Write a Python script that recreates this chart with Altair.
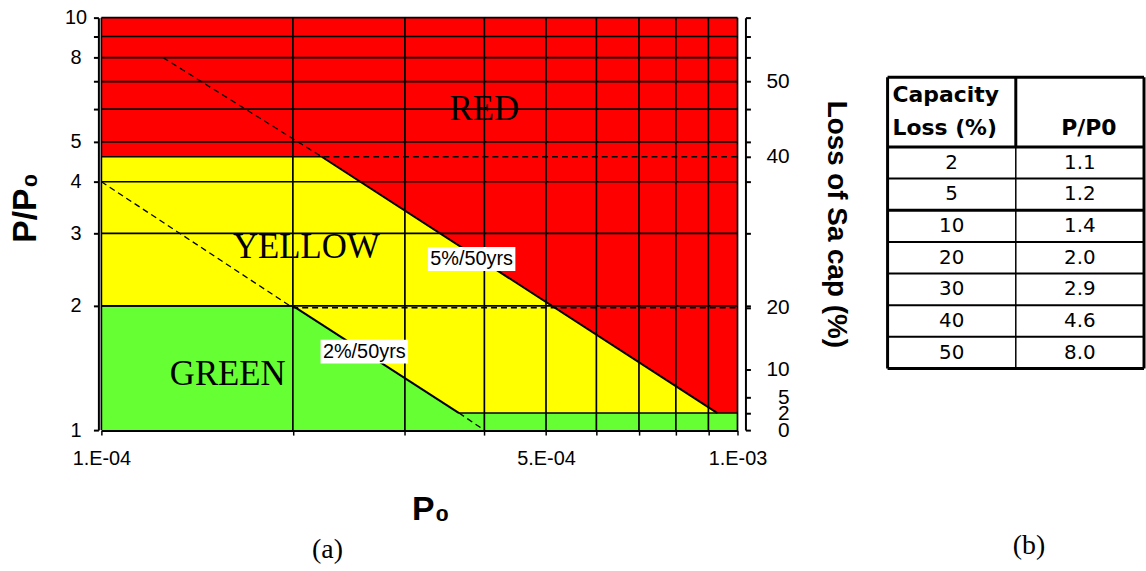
import altair as alt
import pandas as pd

# ---------------- panel (a): P/P0 zones against P0 ----------------
# P0 axis (annual probability, log scale)
p0_ticks = [1e-4, 2e-4, 3e-4, 4e-4, 5e-4, 6e-4, 7e-4, 8e-4, 9e-4, 1e-3]
p0_tick_text = ["1.E-04", "", "", "", "5.E-04", "", "", "", "", "1.E-03"]

# P/P0 axis (log scale)
ratio_ticks = [1, 2, 3, 4, 5, 6, 7, 8, 9, 10]
ratio_tick_text = ["1", "2", "3", "4", "5", "", "", "8", "", "10"]

# secondary axis: loss of Sa capacity (%) placed against P/P0
loss_axis_ratio = [1.0, 1.1, 1.2, 1.4, 1.98, 4.6, 7.0]
loss_axis_text = ["0", "2", "5", "10", "20", "40", "50"]

# zone outlines (vertices along P0)
yellow_p0 = [1e-4, 2.22e-4, 9.3e-4, 1e-3]
yellow_top = [4.6, 4.6, 1.1, 1.1]
green_p0 = [1e-4, 2.0e-4, 3.65e-4, 1e-3]
green_top = [2.0, 2.0, 1.1, 1.1]

# 5%/50yrs and 2%/50yrs hazard lines
haz5_p0 = [2.22e-4, 9.3e-4]
haz5_ratio = [4.6, 1.1]
haz2_p0 = [2.0e-4, 3.65e-4]
haz2_ratio = [2.0, 1.1]

# flat zone edges
edge_yellow_p0 = [1e-4, 2.22e-4]
edge_yellow_ratio = [4.6, 4.6]
edge_green_p0 = [1e-4, 2.0e-4]
edge_green_ratio = [2.0, 2.0]
edge_floor_p0 = [3.65e-4, 1e-3]
edge_floor_ratio = [1.1, 1.1]

# dashed extensions of the hazard lines and capacity-loss limits
dash40_p0 = [1.25e-4, 2.22e-4, 1e-3]
dash40_ratio = [8.0, 4.6, 4.6]
dash20_p0 = [1e-4, 2.0e-4, 1e-3]
dash20_ratio = [4.0, 1.98, 1.98]
dash0_p0 = [3.65e-4, 4.0e-4]
dash0_ratio = [1.1, 1.0]

# zone names
zone_names = ["RED", "YELLOW", "GREEN"]
zone_p0 = [4.0e-4, 2.1e-4, 1.58e-4]
zone_ratio = [6.0, 2.78, 1.37]

# hazard line labels
haz_names = ["5%/50yrs", "2%/50yrs"]
haz_label_p0 = [3.82e-4, 2.59e-4]
haz_label_ratio = [2.6, 1.55]

# ---------------- panel (b): table ----------------
loss_pct = [2, 5, 10, 20, 30, 40, 50]
ratio_values = [1.1, 1.2, 1.4, 2.0, 2.9, 4.6, 8.0]
table_head = ["Capacity\nLoss (%)", "P/P0"]

RED, YELLOW, GREEN = "#FF0000", "#FFFF00", "#66FF33"
SANS, SERIF = "Liberation Sans", "Liberation Serif"


def label_expr(values, texts):
    parts = [f"abs(datum.value / {v!r} - 1) < 1e-6 ? '{t}'" for v, t in zip(values, texts) if t]
    return " : ".join(parts) + " : ''"


def segments(*pairs):
    rows = []
    for k, (xs, ys) in enumerate(pairs):
        for i, (a, b) in enumerate(zip(xs, ys)):
            rows.append({"seg": k, "i": i, "p0": a, "r": b})
    return pd.DataFrame(rows)


X_SCALE = alt.Scale(type="log", domain=[1e-4, 1e-3], nice=False)
Y_SCALE = alt.Scale(type="log", domain=[1, 10], nice=False)

x_axis = alt.Axis(
    values=p0_ticks, labelExpr=label_expr(p0_ticks, p0_tick_text),
    orient="bottom", grid=False, labelFlush=False, labelOverlap=False,
    domainColor="black", domainWidth=3, tickColor="black", tickWidth=1.5, tickSize=5,
    labelFont=SANS, labelFontSize=20, labelColor="black", labelPadding=14,
    title="P₀", titleFont=SANS, titleFontSize=34, titleFontWeight="bold",
    titleColor="black", titlePadding=24, titleX=331,
)
left_axis = alt.Axis(
    values=ratio_ticks, labelExpr=label_expr(ratio_ticks, ratio_tick_text),
    orient="left", offset=3, grid=False, labelOverlap=False,
    domainColor="black", domainWidth=2, tickColor="black", tickWidth=2, tickSize=5,
    labelFont=SANS, labelFontSize=20, labelColor="black", labelAlign="center",
    labelBaseline="middle", labelPadding=18,
    title="P/P₀", titleFont=SANS, titleFontSize=34, titleFontWeight="bold",
    titleColor="black", titlePadding=22, titleY=191,
)
right_ticks = sorted(set(loss_axis_ratio) | set(float(v) for v in ratio_ticks))
right_axis = alt.Axis(
    values=right_ticks, labelExpr=label_expr(loss_axis_ratio, loss_axis_text),
    orient="right", offset=8, grid=False, labelOverlap=False,
    domainColor="black", domainWidth=2, tickColor="black", tickWidth=2, tickSize=5,
    labelFont=SANS, labelFontSize=21, labelColor="black", labelAlign="right",
    labelBaseline="middle", labelPadding=39,
    title="Loss of Sa cap (%)", titleFont=SANS, titleFontSize=28, titleFontWeight="bold",
    titleColor="black", titlePadding=33,
)

# full plot area is the RED zone; it also carries the P0 and P/P0 axes
frame = alt.Chart(pd.DataFrame({"p0": [1e-4], "p0b": [1e-3], "r": [1.0], "rb": [10.0]})).mark_rect(
    color=RED
).encode(
    x=alt.X("p0:Q", scale=X_SCALE, axis=x_axis),
    x2="p0b:Q",
    y=alt.Y("r:Q", scale=Y_SCALE, axis=left_axis),
    y2="rb:Q",
)

yellow = alt.Chart(pd.DataFrame({"p0": yellow_p0, "top": yellow_top, "base": [1.0] * len(yellow_p0)})).mark_area(
    color=YELLOW, opacity=1
).encode(x="p0:Q", y=alt.Y("top:Q", axis=None), y2="base:Q")

green = alt.Chart(pd.DataFrame({"p0": green_p0, "top": green_top, "base": [1.0] * len(green_p0)})).mark_area(
    color=GREEN, opacity=1
).encode(x="p0:Q", y=alt.Y("top:Q", axis=None), y2="base:Q")

vgrid = alt.Chart(pd.DataFrame({"p0": p0_ticks})).mark_rule(color="black", strokeWidth=1.7).encode(
    x="p0:Q"
)
hgrid = alt.Chart(pd.DataFrame({"r": ratio_ticks[1:]})).mark_rule(color="black", strokeWidth=1.7).encode(
    y=alt.Y("r:Q", axis=right_axis)
)

line_enc = dict(
    x="p0:Q",
    y=alt.Y("r:Q", axis=None),
    detail="seg:N",
    order="i:Q",
)
edges = alt.Chart(segments((edge_yellow_p0, edge_yellow_ratio), (edge_green_p0, edge_green_ratio),
                           (edge_floor_p0, edge_floor_ratio))).mark_line(color="black", strokeWidth=1.4).encode(**line_enc)
hazard = alt.Chart(segments((haz5_p0, haz5_ratio), (haz2_p0, haz2_ratio))).mark_line(
    color="black", strokeWidth=2).encode(**line_enc)
dashed = alt.Chart(segments((dash40_p0, dash40_ratio), (dash20_p0, dash20_ratio), (dash0_p0, dash0_ratio))).mark_line(
    color="black", strokeWidth=1.3, strokeDash=[6, 4]).encode(**line_enc)

haz_df = pd.DataFrame({"p0": haz_label_p0, "r": haz_label_ratio, "name": haz_names})
boxes = alt.Chart(haz_df).mark_rect(color="white", xOffset=-44, x2Offset=44, yOffset=-12, y2Offset=12).encode(
    x="p0:Q", x2="p0:Q", y=alt.Y("r:Q", axis=None), y2="r:Q"
)
haz_text = alt.Chart(haz_df).mark_text(font=SANS, fontSize=20, color="black", baseline="middle").encode(
    x="p0:Q", y=alt.Y("r:Q", axis=None), text="name:N"
)
zone_text = alt.Chart(pd.DataFrame({"p0": zone_p0, "r": zone_ratio, "name": zone_names})).mark_text(
    font=SERIF, fontSize=35, color="black", baseline="middle"
).encode(x="p0:Q", y=alt.Y("r:Q", axis=None), text="name:N")

panel_a = alt.layer(
    frame, yellow, green, vgrid, hgrid, edges, hazard, dashed, boxes, haz_text, zone_text
).resolve_axis(y="independent").properties(
    width=640, height=415,
    title=alt.TitleParams("(a)", orient="bottom", anchor="start", frame="group", dx=212, offset=10,
                          font=SERIF, fontSize=28, fontWeight="normal", color="black"),
)

# ---------------- table layout (row units, header is 2.2 rows tall) ----------------
HDR = 2.2
n_rows = len(loss_pct)
bottom = HDR + n_rows
T_X = alt.Scale(domain=[0, 2], nice=False, zero=False)
T_Y = alt.Scale(domain=[-1.884, 11.146], reverse=True, nice=False, zero=False)

rule_rows = []
for k in range(n_rows + 1):
    y = HDR + k
    heavy = k in (0, 2, n_rows)
    rule_rows.append({"x": 0, "x2": 2, "y": y, "y2": y, "w": 3 if heavy else 2})
rule_rows.append({"x": 0, "x2": 2, "y": 0, "y2": 0, "w": 3})
rule_rows.append({"x": 0, "x2": 0, "y": 0, "y2": bottom, "w": 3})
rule_rows.append({"x": 2, "x2": 2, "y": 0, "y2": bottom, "w": 3})
rule_rows.append({"x": 1, "x2": 1, "y": 0, "y2": HDR, "w": 3})
rule_rows.append({"x": 1, "x2": 1, "y": HDR, "y2": bottom, "w": 1.5})
table_rules = alt.Chart(pd.DataFrame(rule_rows)).mark_rule(color="black").encode(
    x=alt.X("x:Q", scale=T_X, axis=None), x2="x2:Q",
    y=alt.Y("y:Q", scale=T_Y, axis=None), y2="y2:Q",
    strokeWidth=alt.StrokeWidth("w:Q", scale=None),
)

cells = []
for i, (a, b) in enumerate(zip(loss_pct, ratio_values)):
    cells.append({"x": 0.5, "y": HDR + i + 0.5, "t": str(a)})
    cells.append({"x": 1.5, "y": HDR + i + 0.5, "t": f"{b:.1f}"})
table_cells = alt.Chart(pd.DataFrame(cells)).mark_text(
    font="DejaVu Sans", fontSize=20, color="black", baseline="middle"
).encode(x=alt.X("x:Q", scale=T_X, axis=None), y=alt.Y("y:Q", scale=T_Y, axis=None), text="t:N")

# header: first column wraps onto two lines, bottom line sits on the header rule
head_left = alt.Chart(pd.DataFrame({"x": [0.0], "y": [HDR], "t": [table_head[0]]})).mark_text(
    font="DejaVu Sans", fontSize=22, fontWeight="bold", color="black", align="left", baseline="bottom",
    dx=5, dy=-40, lineBreak="\n", lineHeight=33,
).encode(x=alt.X("x:Q", scale=T_X, axis=None), y=alt.Y("y:Q", scale=T_Y, axis=None), text="t:N")
head_right = alt.Chart(pd.DataFrame({"x": [1.5], "y": [HDR], "t": [table_head[1]]})).mark_text(
    font="DejaVu Sans", fontSize=22, fontWeight="bold", color="black", baseline="bottom", dx=9, dy=-7,
).encode(x=alt.X("x:Q", scale=T_X, axis=None), y=alt.Y("y:Q", scale=T_Y, axis=None), text="t:N")

panel_b = alt.layer(table_rules, table_cells, head_left, head_right).properties(
    width=258, height=415,
    title=alt.TitleParams("(b)", orient="bottom", anchor="start", frame="group", dx=126, offset=103,
                          font=SERIF, fontSize=28, fontWeight="normal", color="black"),
)

chart = alt.hconcat(panel_a, panel_b, spacing=151, bounds="flush").configure_view(
    stroke=None
).properties(
    padding={"left": 8, "top": 5, "right": 0, "bottom": 5}, background="white"
)

chart.save("out.html", embed_options={"renderer": "svg", "actions": False})
